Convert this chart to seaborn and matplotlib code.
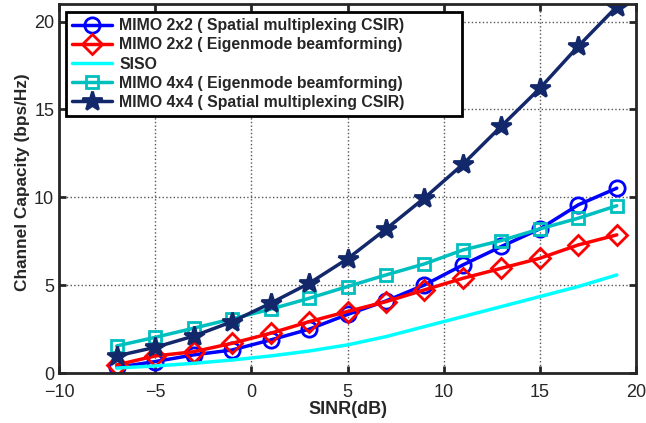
import numpy as np
import pandas as pd
import matplotlib
matplotlib.use("Agg")
import matplotlib.pyplot as plt
import seaborn as sns

sinr = [-7, -5, -3, -1, 1, 3, 5, 7, 9, 11, 13, 15, 17, 19]
mimo2_sm = [0.32, 0.65, 1.03, 1.31, 1.88, 2.49, 3.33, 4.1, 5.01, 6.15, 7.2, 8.2, 9.57, 10.52]
mimo2_eb = [0.46, 0.97, 1.21, 1.69, 2.26, 2.92, 3.5, 4.06, 4.73, 5.39, 5.96, 6.53, 7.29, 7.86]
siso = [0.28, 0.4, 0.55, 0.74, 0.97, 1.25, 1.6, 2.07, 2.64, 3.21, 3.78, 4.35, 4.92, 5.58]
mimo4_eb = [1.54, 2.03, 2.55, 3.08, 3.63, 4.25, 4.92, 5.58, 6.21, 7.0, 7.54, 8.2, 8.81, 9.52]
mimo4_sm = [0.97, 1.46, 2.1, 2.92, 3.97, 5.1, 6.5, 8.19, 9.96, 11.88, 14.05, 16.2, 18.6, 20.85]

labels = [
    "MIMO 2x2 ( Spatial multiplexing CSIR)",
    "MIMO 2x2 ( Eigenmode beamforming)",
    "SISO",
    "MIMO 4x4 ( Eigenmode beamforming)",
    "MIMO 4x4 ( Spatial multiplexing CSIR)",
]
series = [mimo2_sm, mimo2_eb, siso, mimo4_eb, mimo4_sm]
colors = ["#0000FF", "#FF0000", "#00FFFF", "#00BFBF", "#13286B"]
markers = ["o", "D", None, "s", "*"]
msizes = [11, 10, 0, 9, 15]
filled = [False, False, False, False, True]

sns.set_style("ticks")
plt.rcParams["font.family"] = ["Liberation Sans", "DejaVu Sans"]

fig = plt.figure(figsize=(6.46, 4.23), dpi=100)
ax = fig.add_axes([59 / 646, 1 - 373 / 423, (636 - 59) / 646, (373 - 4) / 423])

for lab, ys, c, m, ms, f in zip(labels, series, colors, markers, msizes, filled):
    df = pd.DataFrame({"SINR": sinr, "Capacity": ys})
    kw = dict(marker=m, markersize=ms, markeredgewidth=2,
              markerfacecolor=(c if f else "none"), markeredgecolor=c) if m else {}
    sns.lineplot(data=df, x="SINR", y="Capacity", ax=ax, color=c, linewidth=2.5,
                 label=lab, **kw)

ax.set_xlim(-10, 20)
ax.set_ylim(0, 21)
ax.set_xticks([-10, -5, 0, 5, 10, 15, 20])
ax.set_yticks([0, 5, 10, 15, 20])
ax.grid(True, linestyle=":", color="#555555", linewidth=1)
ax.tick_params(direction="in", length=5, width=2, labelsize=13, top=True, right=True)
ax.tick_params(axis="x", pad=8)
for sp in ax.spines.values():
    sp.set_linewidth(2)
    sp.set_visible(True)
ax.set_xlabel("SINR(dB)", fontsize=13, fontweight="bold", labelpad=0)
ax.set_ylabel("Channel Capacity (bps/Hz)", fontsize=12.4, fontweight="bold")
ax.yaxis.set_label_coords(-0.05, 0.518)

# legend box is wider than its text in the original
w, h = 396 / 577, 101 / 369
leg = ax.legend(loc="upper left", bbox_to_anchor=(7 / 577, 1 - 8 / 369 - h, w, h),
                mode="expand", fancybox=False, framealpha=1, edgecolor="black",
                handlelength=2.5, borderpad=0.4, labelspacing=0.26, handletextpad=0.45,
                borderaxespad=0, prop={"weight": "bold", "size": 11.4})
leg.get_frame().set_linewidth(2)

fig.savefig("out.png", dpi=100)
